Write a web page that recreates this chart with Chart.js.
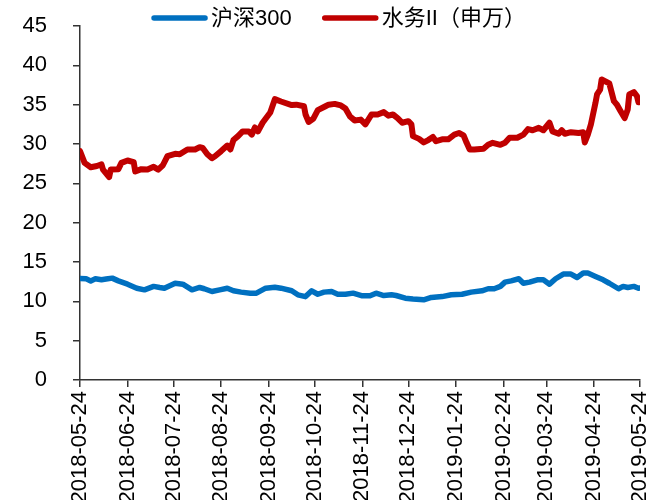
<!DOCTYPE html>
<html><head><meta charset="utf-8">
<script src="https://cdn.jsdelivr.net/npm/chart.js@4/dist/chart.umd.min.js"></script>
<style>html,body{margin:0;padding:0;background:#fff;overflow:hidden}</style>
</head><body>
<canvas id="c" width="662" height="500"></canvas>
<script>
const startDate = '2018-05-24';
const seriesNames = ['沪深300', '水务II（申万）'];
const seriesColors = ['#0070C0', '#C00000'];
const tickDates = ['2018-05-24','2018-06-24','2018-07-24','2018-08-24','2018-09-24','2018-10-24','2018-11-24','2018-12-24','2019-01-24','2019-02-24','2019-03-24','2019-04-24','2019-05-24'];
const tickLabels = tickDates.slice();
const yTickValues = [0,5,10,15,20,25,30,35,40,45];

const hs300Dates = ['2018-05-24','2018-05-28','2018-05-31','2018-06-03','2018-06-07','2018-06-10','2018-06-14','2018-06-18','2018-06-24','2018-06-30','2018-07-05','2018-07-11','2018-07-15','2018-07-18','2018-07-25','2018-07-30','2018-08-05','2018-08-10','2018-08-13','2018-08-18','2018-08-23','2018-08-28','2018-09-01','2018-09-06','2018-09-12','2018-09-16','2018-09-22','2018-09-28','2018-10-02','2018-10-09','2018-10-13','2018-10-18','2018-10-22','2018-10-26','2018-10-30','2018-11-04','2018-11-08','2018-11-13','2018-11-18','2018-11-24','2018-11-29','2018-12-03','2018-12-08','2018-12-13','2018-12-16','2018-12-22','2018-12-27','2019-01-03','2019-01-08','2019-01-15','2019-01-21','2019-01-28','2019-02-03','2019-02-10','2019-02-14','2019-02-18','2019-02-22','2019-02-25','2019-03-01','2019-03-06','2019-03-09','2019-03-13','2019-03-18','2019-03-22','2019-03-26','2019-03-30','2019-04-04','2019-04-09','2019-04-13','2019-04-17','2019-04-20','2019-04-25','2019-04-30','2019-05-04','2019-05-10','2019-05-13','2019-05-16','2019-05-20','2019-05-23','2019-05-24'];
const hs300Values = [12.9,12.87,12.6,12.87,12.74,12.83,12.95,12.6,12.18,11.67,11.46,11.9,11.76,11.67,12.3,12.18,11.46,11.76,11.6,11.25,11.46,11.67,11.34,11.17,11.04,11.04,11.67,11.8,11.67,11.34,10.83,10.6,11.34,10.9,11.17,11.25,10.9,10.9,11.04,10.7,10.7,11.04,10.74,10.83,10.74,10.4,10.3,10.2,10.5,10.6,10.83,10.9,11.17,11.34,11.6,11.6,11.9,12.44,12.6,12.87,12.3,12.44,12.74,12.74,12.18,12.87,13.47,13.47,13.03,13.59,13.59,13.16,12.74,12.3,11.6,11.9,11.76,11.9,11.67,11.7];

const waterDates = ['2018-05-24','2018-05-27','2018-05-31','2018-06-04','2018-06-07','2018-06-08','2018-06-12','2018-06-13','2018-06-18','2018-06-20','2018-06-24','2018-06-28','2018-06-29','2018-07-03','2018-07-07','2018-07-11','2018-07-14','2018-07-17','2018-07-20','2018-07-25','2018-07-28','2018-08-02','2018-08-07','2018-08-10','2018-08-12','2018-08-15','2018-08-18','2018-08-20','2018-08-24','2018-08-28','2018-08-30','2018-09-01','2018-09-04','2018-09-07','2018-09-11','2018-09-13','2018-09-15','2018-09-17','2018-09-20','2018-09-25','2018-09-28','2018-10-02','2018-10-09','2018-10-12','2018-10-17','2018-10-18','2018-10-20','2018-10-23','2018-10-26','2018-10-31','2018-11-02','2018-11-06','2018-11-10','2018-11-13','2018-11-16','2018-11-19','2018-11-23','2018-11-26','2018-11-30','2018-12-04','2018-12-08','2018-12-11','2018-12-14','2018-12-17','2018-12-20','2018-12-24','2018-12-26','2018-12-27','2018-12-31','2019-01-03','2019-01-06','2019-01-09','2019-01-11','2019-01-15','2019-01-19','2019-01-23','2019-01-26','2019-01-29','2019-01-31','2019-02-02','2019-02-05','2019-02-11','2019-02-14','2019-02-17','2019-02-22','2019-02-25','2019-02-28','2019-03-05','2019-03-09','2019-03-12','2019-03-15','2019-03-19','2019-03-22','2019-03-26','2019-03-28','2019-04-01','2019-04-03','2019-04-05','2019-04-09','2019-04-14','2019-04-17','2019-04-18','2019-04-20','2019-04-22','2019-04-25','2019-04-26','2019-04-28','2019-04-29','2019-05-04','2019-05-07','2019-05-09','2019-05-11','2019-05-14','2019-05-16','2019-05-17','2019-05-20','2019-05-22','2019-05-23','2019-05-24'];
const waterValues = [29.1,27.6,27.05,27.2,27.4,26.75,25.8,26.75,26.8,27.6,27.9,27.7,26.5,26.8,26.75,27.1,26.75,27.3,28.45,28.75,28.7,29.3,29.3,29.6,29.5,28.7,28.2,28.45,29.1,29.8,29.3,30.5,31.0,31.6,31.6,31.2,32.1,31.6,32.7,34.0,35.7,35.4,34.95,35.0,34.8,33.75,32.8,33.2,34.3,34.8,35.0,35.1,34.9,34.5,33.5,33.0,33.1,32.5,33.75,33.75,34.05,33.6,33.75,33.3,32.7,32.9,32.5,31.0,30.65,30.2,30.5,30.9,30.35,30.6,30.6,31.2,31.4,31.1,30.15,29.3,29.3,29.4,29.9,30.15,29.9,30.15,30.8,30.8,31.2,31.9,31.75,32.05,31.75,32.7,31.6,31.3,31.75,31.3,31.5,31.4,31.5,30.2,31.2,32.5,35.25,36.3,36.9,38.2,37.7,35.45,35.0,34.3,33.3,34.4,36.3,36.6,36.1,35.3,35.6];

function dayOf(s) {
  const [y, m, d] = s.split('-').map(Number);
  const [y0, m0, d0] = startDate.split('-').map(Number);
  return Math.round((Date.UTC(y, m - 1, d) - Date.UTC(y0, m0 - 1, d0)) / 86400000);
}
const toPoints = (dates, vals) => dates.map((d, i) => ({ x: dayOf(d), y: vals[i] }));
const tickDays = tickDates.map(dayOf);

const FONT = "'Liberation Sans', Arial, 'Noto Sans CJK SC', sans-serif";

const legendPlugin = {
  id: 'lineLegend',
  afterDraw(chart) {
    const ctx = chart.ctx;
    ctx.save();
    ctx.font = '22px ' + FONT;
    ctx.textBaseline = 'middle';
    const lineW = 55, gapText = 4, gapItem = 31;
    const items = chart.data.datasets.map(ds => ({ text: ds.label, color: ds.borderColor, w: ctx.measureText(ds.label).width }));
    const total = items.reduce((s, it) => s + lineW + gapText + it.w, 0) + gapItem * (items.length - 1);
    let x = 339 - total / 2;
    const y = 18;
    items.forEach(it => {
      ctx.strokeStyle = it.color;
      ctx.lineWidth = 5.5;
      ctx.lineCap = 'round';
      ctx.beginPath(); ctx.moveTo(x + 2, y); ctx.lineTo(x + lineW - 2, y); ctx.stroke();
      ctx.fillStyle = '#000';
      ctx.fillText(it.text, x + lineW + gapText, y + 1);
      x += lineW + gapText + it.w + gapItem;
    });
    ctx.restore();
  }
};

new Chart(document.getElementById('c'), {
  type: 'line',
  data: {
    datasets: [
      { label: seriesNames[0], data: toPoints(hs300Dates, hs300Values), borderColor: seriesColors[0], backgroundColor: seriesColors[0], borderWidth: 5.5, pointRadius: 0, tension: 0, borderJoinStyle: 'round', borderCapStyle: 'round' },
      { label: seriesNames[1], data: toPoints(waterDates, waterValues), borderColor: seriesColors[1], backgroundColor: seriesColors[1], borderWidth: 6, pointRadius: 0, tension: 0, borderJoinStyle: 'round', borderCapStyle: 'round' }
    ]
  },
  options: {
    responsive: false,
    animation: false,
    devicePixelRatio: 1,
    layout: { padding: { top: 26, right: 22, left: 0, bottom: 0 } },
    plugins: { legend: { display: false }, tooltip: { enabled: false } },
    scales: {
      x: {
        type: 'linear',
        min: tickDays[0],
        max: tickDays[tickDays.length - 1],
        afterBuildTicks(scale) { scale.ticks = tickDays.map(v => ({ value: v })); },
        afterFit(scale) { scale.height = 120; scale.paddingLeft = 0; scale.paddingRight = 0; scale.paddingTop = 0; scale.paddingBottom = 0; },
        ticks: {
          autoSkip: false, minRotation: 90, maxRotation: 90, padding: 4,
          color: '#000', font: { family: FONT, size: 22 },
          callback(value, index) { return tickLabels[index]; }
        },
        grid: { display: true, drawOnChartArea: false, drawTicks: true, tickLength: 7, color: '#333', lineWidth: 1.5 },
        border: { display: true, color: '#333', width: 1.5 }
      },
      y: {
        min: 0, max: 45,
        afterBuildTicks(scale) { scale.ticks = yTickValues.map(v => ({ value: v })); },
        afterFit(scale) { scale.width = 80; scale.paddingLeft = 0; scale.paddingRight = 0; scale.paddingTop = 0; scale.paddingBottom = 0; },
        ticks: { padding: 26, color: '#000', font: { family: FONT, size: 22 } },
        grid: { display: true, drawOnChartArea: false, drawTicks: true, tickLength: 7, color: '#333', lineWidth: 1.5 },
        border: { display: true, color: '#333', width: 1.5 }
      }
    }
  },
  plugins: [legendPlugin]
});
</script>
</body></html>
